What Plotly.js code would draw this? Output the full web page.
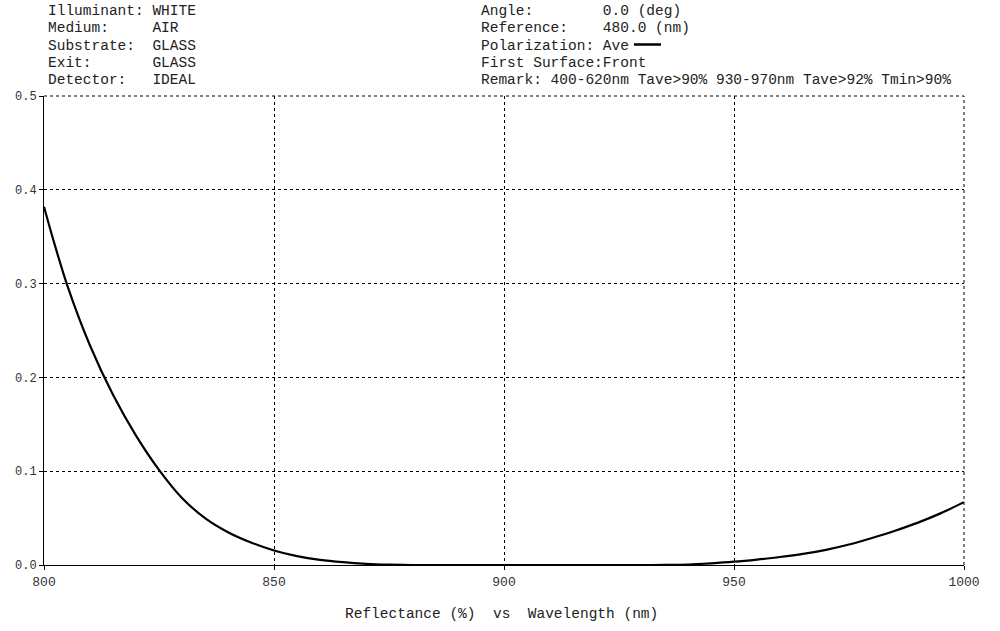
<!DOCTYPE html>
<html>
<head>
<meta charset="utf-8">
<script src="https://cdn.plot.ly/plotly-3.0.1.min.js"></script>
<style>html,body{margin:0;padding:0;background:#fff;}#chart{width:1000px;height:631px;}</style>
</head>
<body>
<div id="chart"></div>
<script>
// Wavelength (nm)
const wavelength = [800,802,805,810,815,820,825,830,835,840,845,850,855,860,865,870,875,880,890,900,910,920,930,935,940,945,950,955,960,965,970,975,980,985,990,995,1000];
// Reflectance (%)
const reflectance = [0.382,0.347,0.299,0.234,0.1815,0.138,0.1015,0.0715,0.050,0.035,0.024,0.0155,0.0095,0.0055,0.003,0.0013,0.0004,0.0,0.0,0.0,0.0,0.0,0.0,0.0001,0.0005,0.0018,0.0035,0.0058,0.0085,0.0118,0.0162,0.0218,0.0288,0.0365,0.0452,0.0553,0.067];

const xTicks = [800,850,900,950,1000];
const yTicks = [0.0,0.1,0.2,0.3,0.4,0.5];

const headerLeft = ["Illuminant: WHITE","Medium:     AIR","Substrate:  GLASS","Exit:       GLASS","Detector:   IDEAL"];
const headerRight = ["Angle:        0.0 (deg)","Reference:    480.0 (nm)","Polarization: Ave","First Surface:Front","Remark: 400-620nm Tave>90% 930-970nm Tave>92% Tmin>90%"];
const axisCaption = "Reflectance (%)  vs  Wavelength (nm)";

const W = 1000, H = 631;
const L = 44, R = 36, T = 96, B = 66;
const pw = W - L - R, ph = H - T - B;
const px = x => (x - L) / pw;
const py = y => (H - B - y) / ph;

const mono = "Liberation Mono, Courier New, monospace";
const rowY = [11.3, 28.5, 45.7, 63, 80.2];

const annotations = [];
headerLeft.forEach((t, i) => annotations.push({
  text: t, xref: 'paper', yref: 'paper', x: px(46), y: py(rowY[i]),
  xanchor: 'left', yanchor: 'middle', showarrow: false,
  font: {family: mono, size: 14.5, color: '#222'}
}));
headerRight.forEach((t, i) => annotations.push({
  text: t, xref: 'paper', yref: 'paper', x: px(479), y: py(rowY[i]),
  xanchor: 'left', yanchor: 'middle', showarrow: false,
  font: {family: mono, size: 14.5, color: '#222'}
}));
annotations.push({
  text: axisCaption, xref: 'paper', yref: 'paper', x: px(501), y: py(614),
  xanchor: 'center', yanchor: 'middle', showarrow: false,
  font: {family: mono, size: 14.5, color: '#222'}
});

const shapes = [
  {type: 'line', xref: 'paper', yref: 'paper',
   x0: px(634), x1: px(661), y0: py(44.5), y1: py(44.5),
   line: {color: '#000', width: 2.5}},
  // dashed frame on top and right (grid lines at the range ends)
  {type: 'line', xref: 'paper', yref: 'paper', x0: 0, x1: 1, y0: 1, y1: 1,
   line: {color: '#000', width: 1, dash: '3px,3px'}},
  {type: 'line', xref: 'paper', yref: 'paper', x0: 1, x1: 1, y0: 0, y1: 1,
   line: {color: '#000', width: 1, dash: '3px,3px'}}
];

const trace = {
  x: wavelength, y: reflectance, type: 'scatter', mode: 'lines',
  line: {color: '#000', width: 2.2, shape: 'spline', smoothing: 0.8},
  hoverinfo: 'skip', showlegend: false
};

const layout = {
  width: W, height: H,
  margin: {l: L, r: R, t: T, b: B, pad: 0},
  paper_bgcolor: '#fff', plot_bgcolor: '#fff',
  showlegend: false,
  xaxis: {
    range: [800, 1000], tickvals: xTicks, ticktext: xTicks.map(String),
    showgrid: true, gridcolor: '#000', gridwidth: 1, griddash: '3px,3px',
    showline: true, linecolor: '#000', linewidth: 1,
    ticks: 'outside', ticklen: 4, tickcolor: '#000',
    zeroline: false, fixedrange: true,
    tickfont: {family: mono, size: 13, color: '#333'}
  },
  yaxis: {
    range: [0, 0.5], tickvals: yTicks, ticktext: yTicks.map(v => v.toFixed(1)),
    showgrid: true, gridcolor: '#000', gridwidth: 1, griddash: '3px,3px',
    showline: true, linecolor: '#000', linewidth: 1,
    ticks: 'outside', ticklen: 4, tickcolor: '#000',
    zeroline: false, fixedrange: true,
    tickfont: {family: mono, size: 12, color: '#333'}
  },
  annotations: annotations,
  shapes: shapes
};

Plotly.newPlot('chart', [trace], layout, {staticPlot: true, displayModeBar: false});
</script>
</body>
</html>
